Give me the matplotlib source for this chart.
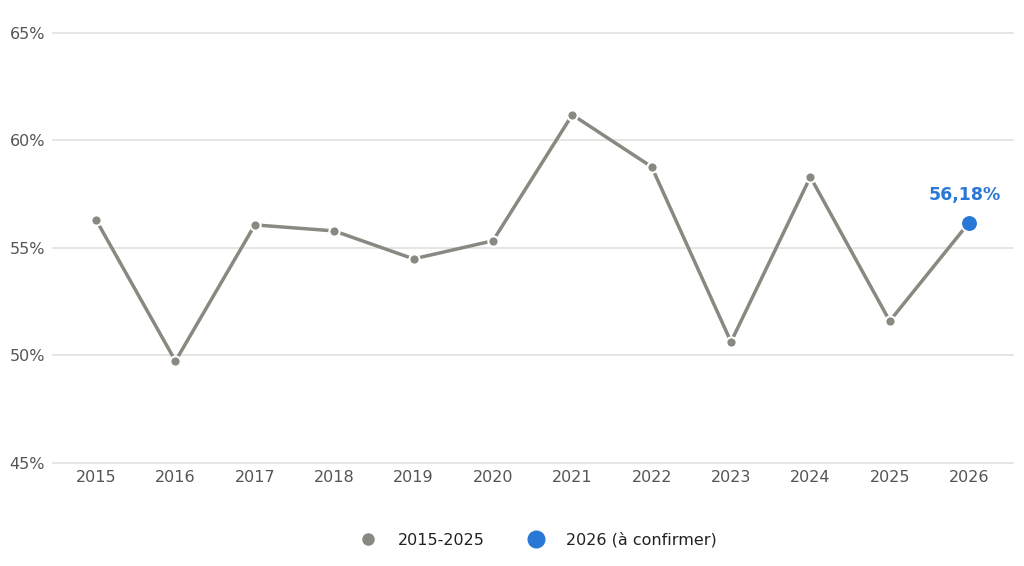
import matplotlib
matplotlib.use("Agg")
import matplotlib.pyplot as plt
from matplotlib.lines import Line2D

plt.rcParams['font.family'] = ['DejaVu Sans']

years = [2015, 2016, 2017, 2018, 2019, 2020, 2021, 2022, 2023, 2024, 2025, 2026]
rates = [56.30, 49.74, 56.07, 55.79, 54.49, 55.33, 61.19, 58.77, 50.63, 58.30, 51.60, 56.18]

grey = "#898982"
blue = "#2a78d6"

fig = plt.figure(figsize=(10.24, 5.66), dpi=100)
ax = fig.add_axes([0.052, 0.182, 0.937, 0.76])

ax.plot(years, rates, color=grey, lw=2.5, zorder=2)
ax.scatter(years[:-1], rates[:-1], s=55, color=grey, edgecolor="white", linewidth=1.5, zorder=3)
ax.scatter(years[-1:], rates[-1:], s=150, color=blue, edgecolor="white", linewidth=1.5, zorder=4)
ax.annotate("56,18%", (years[-1], rates[-1]), xytext=(-3, 13), textcoords="offset points",
            ha="center", va="bottom", color=blue, fontsize=12.5, fontweight="bold")

ax.set_xlim(2014.46, 2026.55)
ax.set_ylim(45, 65)
ax.set_yticks([45, 50, 55, 60, 65])
ax.set_yticklabels([f"{v}%" for v in [45, 50, 55, 60, 65]])
ax.set_xticks(years)
ax.tick_params(axis="both", length=0, labelsize=11.5, colors="#555555")
ax.tick_params(axis="x", pad=5)
ax.tick_params(axis="y", pad=6)
ax.grid(axis="y", color="#e0e0dc", lw=1.2)
for gl in ax.get_ygridlines():
    gl.set_clip_on(False)
ax.set_axisbelow(True)
for s in ax.spines.values():
    s.set_visible(False)

handles = [
    Line2D([], [], marker="o", ls="", color=grey, markersize=8, label="2015-2025"),
    Line2D([], [], marker="o", ls="", color=blue, markersize=12, label="2026 (à confirmer)"),
]
fig.legend(handles=handles, loc="center", bbox_to_anchor=(0.522, 0.046), ncol=2, frameon=False,
           fontsize=11.5, columnspacing=2.2, handletextpad=0.9, labelcolor="#222222")

fig.savefig("out.png", dpi=100, facecolor="white")
